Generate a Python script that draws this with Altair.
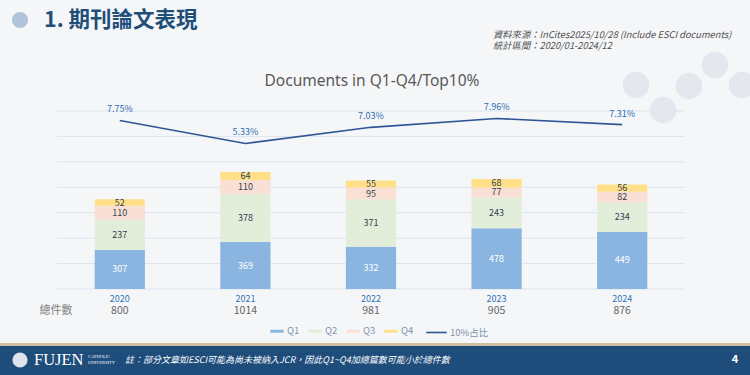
import altair as alt
import pandas as pd

years = ["2020", "2021", "2022", "2023", "2024"]
q1 = [307, 369, 332, 478, 449]
q2 = [237, 378, 371, 243, 234]
q3 = [110, 110, 95, 77, 82]
q4 = [52, 64, 55, 68, 56]
top10_pct = [0.0775, 0.0533, 0.0703, 0.0796, 0.0731]
totals = [800, 1014, 981, 905, 876]
grid_values = [0, 200, 400, 600, 800, 1000, 1200, 1400]

quartiles = ["Q1", "Q2", "Q3", "Q4"]
q_colors = ["#8AB5E0", "#E2EEDA", "#FADFD4", "#FFE089"]
line_color = "#2F5597"

rows = []
for qi, (qn, vals) in enumerate(zip(quartiles, [q1, q2, q3, q4])):
    for y, v in zip(years, vals):
        rows.append({"year": y, "quartile": qn, "value": v, "order": qi})
bars_df = pd.DataFrame(rows)
line_df = pd.DataFrame({"year": years, "pct": top10_pct, "series": ["10%占比"] * 5})
tot_df = pd.DataFrame({"year": years, "total": [str(t) for t in totals]})
grid_df = pd.DataFrame({"g": grid_values})

W, H = 628, 178
FONT = "Noto Sans CJK TC"

ysc = alt.Scale(domain=[0, 1400], nice=False)

x_enc = alt.X("year:N", sort=years,
              scale=alt.Scale(paddingInner=0.6, paddingOuter=0.3),
              axis=alt.Axis(title=None, labelAngle=0, labelColor="#2E75B6",
                            labelFontSize=9, labelFont=FONT, domain=False,
                            ticks=False, labelPadding=5, grid=False))

grid = alt.Chart(grid_df).mark_rule(color="#DCE4F0", strokeWidth=1).encode(
    y=alt.Y("g:Q", scale=ysc, axis=None))

bars = alt.Chart(bars_df).mark_bar().encode(
    x=x_enc,
    y=alt.Y("value:Q", stack="zero", scale=ysc, axis=None),
    color=alt.Color("quartile:N", sort=quartiles,
                    scale=alt.Scale(domain=quartiles, range=q_colors),
                    legend=alt.Legend(title=None, orient="none", legendX=213, legendY=213,
                                      direction="horizontal",
                                      symbolType="M-1,-0.22H1V0.22H-1Z", symbolSize=180,
                                      symbolStrokeWidth=0,
                                      labelFontSize=9.5, labelColor="#7F93AD", labelFont=FONT,
                                      labelOffset=3, columnPadding=8)),
    order=alt.Order("order:Q"),
)

bar_text = alt.Chart(bars_df).transform_stack(
    stack="value", as_=["v0", "v1"], groupby=["year"], sort=[alt.SortField("order")]
).transform_calculate(mid="(datum.v0 + datum.v1) / 2").mark_text(
    fontSize=9, font=FONT
).encode(
    x=alt.X("year:N", sort=years),
    y=alt.Y("mid:Q", scale=ysc),
    text=alt.Text("value:Q"),
    color=alt.condition(alt.datum.quartile == "Q1", alt.value("#FFFFFF"), alt.value("#333F50")),
)

bar_layer = alt.layer(grid, bars, bar_text)

lsc = alt.Scale(domain=[-0.10, 0.0875], nice=False, zero=False)
line = alt.Chart(line_df).mark_line(strokeWidth=1.6).encode(
    x=alt.X("year:N", sort=years),
    y=alt.Y("pct:Q", scale=lsc, axis=None),
    stroke=alt.Stroke("series:N", scale=alt.Scale(range=[line_color]),
                      legend=alt.Legend(title=None, orient="none", legendX=368, legendY=210,
                                        symbolType="stroke", symbolSize=420, symbolStrokeWidth=1.6,
                                        labelFontSize=9.5, labelColor="#7F93AD", labelFont=FONT,
                                        labelOffset=2)),
)
line_text = alt.Chart(line_df).mark_text(fontSize=9, font=FONT, color="#2E6DB4", dy=-11).encode(
    x=alt.X("year:N", sort=years),
    y=alt.Y("pct:Q", scale=lsc, axis=None),
    text=alt.Text("pct:Q", format=".2%"),
)
line_layer = alt.layer(line, line_text)

totals_text = alt.Chart(tot_df).mark_text(fontSize=10.5, font=FONT, color="#666666").encode(
    x=alt.X("year:N", sort=years),
    y=alt.value(200),
    text="total:N",
)

one = pd.DataFrame({"k": [0]})
def deco_text(txt, x, y, **kw):
    return alt.Chart(one).mark_text(text=txt, **kw).encode(x=alt.value(x), y=alt.value(y))

def shield(x, y):
    return alt.Chart(one).mark_circle(size=700, color="#E4E8EE", opacity=1).encode(
        x=alt.value(x), y=alt.value(y))

shields = [shield(579, -26), shield(632, -25), shield(658, -46), shield(685, -26), shield(606, -1)]

band = alt.Chart(one).mark_rect(color="#1E4C7B").encode(
    x=alt.value(-57), x2=alt.value(693), y=alt.value(235), y2=alt.value(264))
tanline = alt.Chart(one).mark_rect(color="#CDBF9F").encode(
    x=alt.value(-57), x2=alt.value(693), y=alt.value(232), y2=alt.value(235))
logo_top = alt.Chart(one).mark_circle(size=260, color="#AFC3DA", opacity=1).encode(
    x=alt.value(-37), y=alt.value(-91))
logo_bot = alt.Chart(one).mark_circle(size=230, color="#FFFFFF", opacity=0.85).encode(
    x=alt.value(-37), y=alt.value(249))

decor = [
    tanline, band, logo_top, logo_bot,
    deco_text("1. 期刊論文表現", -13, -90, font=FONT, fontSize=21.5, fontWeight="bold",
              color="#1F4E79", align="left", baseline="middle"),
    deco_text("資料來源：InCites2025/10/28 (Include ESCI documents)", 436, -76, font=FONT,
              fontSize=9.3, fontStyle="italic", color="#505050", align="left", baseline="middle"),
    deco_text("統計區間：2020/01-2024/12", 436, -65, font=FONT, fontSize=9.3, fontStyle="italic",
              color="#505050", align="left", baseline="middle"),
    deco_text("Documents in Q1-Q4/Top10%", 315, -30, font="Noto Sans", fontSize=15.5,
              color="#595959", align="center", baseline="middle"),
    deco_text("總件數", -1, 200, font=FONT, fontSize=11, color="#808080",
              align="center", baseline="middle"),
    deco_text("FUJEN", -23, 249, font="Liberation Serif", fontSize=16.5, color="#FFFFFF",
              align="left", baseline="middle"),
    deco_text("CATHOLIC", 31, 246, font="Liberation Serif", fontSize=4.5, color="#FFFFFF",
              align="left", baseline="middle"),
    deco_text("UNIVERSITY", 31, 252, font="Liberation Serif", fontSize=4.5, color="#FFFFFF",
              align="left", baseline="middle"),
    deco_text("註：部分文章如ESCI可能為尚未被納入JCR，因此Q1~Q4加總篇數可能小於總件數", 68, 249,
              font=FONT, fontSize=9, fontStyle="italic", color="#FFFFFF", align="left",
              baseline="middle"),
    deco_text("4", 678, 249, font=FONT, fontSize=11, fontWeight="bold", color="#FFFFFF",
              align="center", baseline="middle"),
]

chart = alt.layer(*shields, bar_layer, line_layer, totals_text, *decor).resolve_scale(
    y="independent", color="independent", stroke="independent"
).properties(
    width=W, height=H,
    padding={"left": 57, "top": 111, "right": 65, "bottom": 86},
    autosize=alt.AutoSizeParams(type="none"),
    background="#F5F6F8",
).configure_view(stroke=None)

chart.save("out.html", embed_options={"renderer": "svg", "actions": False})
